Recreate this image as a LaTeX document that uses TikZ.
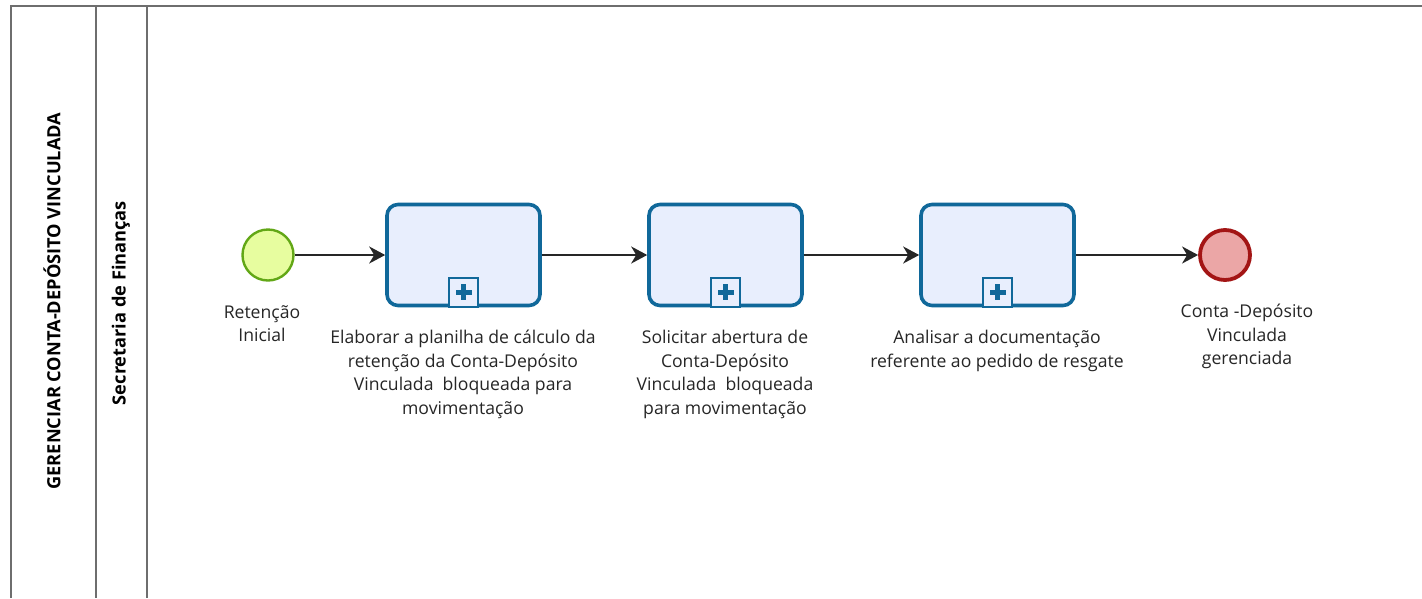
\documentclass[tikz,border=0pt]{standalone}
\usepackage{fontspec}
\setmainfont{Open Sans}
\usetikzlibrary{arrows.meta}
\definecolor{taskline}{HTML}{10689A}
\definecolor{taskfill}{HTML}{E8EEFD}
\definecolor{startline}{HTML}{62A716}
\definecolor{startfill}{HTML}{E7FD9F}
\definecolor{endline}{HTML}{A31515}
\definecolor{endfill}{HTML}{EBA6A6}
\definecolor{poolline}{HTML}{6E6E6E}
\definecolor{txt}{HTML}{262626}
\tikzset{
  x=1pt, y=-1pt,
  task/.style={draw=taskline, fill=taskfill, line width=3.6pt, rounded corners=11pt,
    minimum width=153pt, minimum height=101pt, inner sep=0pt},
  marker/.style={draw=taskline, fill=taskfill, line width=1.8pt, minimum width=29pt,
    minimum height=29pt, inner sep=0pt, anchor=south},
  startev/.style={circle, draw=startline, fill=startfill, line width=2.4pt,
    minimum size=51pt, inner sep=0pt},
  endev/.style={circle, draw=endline, fill=endfill, line width=3.8pt,
    minimum size=50pt, inner sep=0pt},
  lbl/.style={text=txt, font=\fontsize{17.6pt}{23.6pt}\selectfont, align=center,
    inner sep=0pt, anchor=north},
  flow/.style={draw=black!85, line width=2pt, -{Stealth[length=16pt,width=17pt,inset=5pt]}},
  pool/.style={draw=poolline, line width=1.8pt},
  hdr/.style={text=black, font=\fontsize{18.2pt}{20pt}\selectfont\bfseries, rotate=90}
}
\begin{document}
\begin{tikzpicture}
\useasboundingbox (0,0) rectangle (1422,598);
\fill[white] (0,0) rectangle (1422,598);
% pool and lane frame
\draw[pool] (11,598) -- (11,6) -- (1422,6);
\draw[pool] (96,6) -- (96,598);
\draw[pool] (147,6) -- (147,598);
\node[hdr] (pooltitle) at (52,301) {GERENCIAR CONTA-DEPÓSITO VINCULADA};
\node[hdr] (lanetitle) at (121,303) {Secretaria de Finanças};
% events and tasks, all on one horizontal axis
\node[startev] (start) at (268,255) {};
\node[task] (t1) at (463.5,255) {};
\node[task] (t2) at (725.5,255) {};
\node[task] (t3) at (997.5,255) {};
\node[endev] (end) at (1225,255) {};
% collapsed sub-process markers
\foreach \t in {t1,t2,t3}{
  \node[marker] (\t m) at ([yshift=-0.5pt]\t.south) {};
  \fill[taskline] ([xshift=-2.5pt,yshift=-8pt]\t m.center) rectangle ([xshift=2.5pt,yshift=8pt]\t m.center);
  \fill[taskline] ([xshift=-8pt,yshift=-2.5pt]\t m.center) rectangle ([xshift=8pt,yshift=2.5pt]\t m.center);
}
% sequence flows
\draw[flow] (start) -- (t1);
\draw[flow] (t1) -- (t2);
\draw[flow] (t2) -- (t3);
\draw[flow] (t3) -- (end);
% labels
\node[lbl] (lstart) at (262,305) {Retenção\\Inicial};
\node[lbl] (l1) at (463,330) {Elaborar a planilha de cálculo da\\retenção da Conta-Depósito\\Vinculada\ \ bloqueada para\\movimentação};
\node[lbl] (l2) at (725,330) {Solicitar abertura de\\Conta-Depósito\\Vinculada\ \ bloqueada\\para movimentação};
\node[lbl] (l3) at (997,330) {Analisar a documentação\\referente ao pedido de resgate};
\node[lbl] (lend) at (1247,304) {Conta -Depósito\\Vinculada\\gerenciada};
\end{tikzpicture}
\end{document}
